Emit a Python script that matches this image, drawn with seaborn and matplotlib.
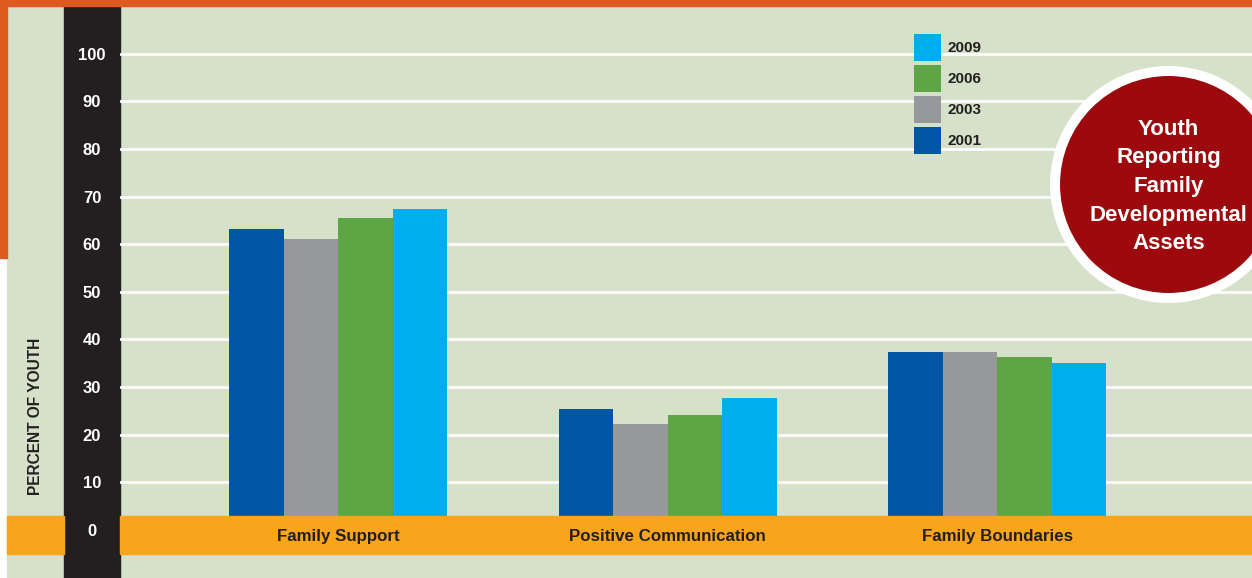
import matplotlib
matplotlib.use("Agg")
import matplotlib.pyplot as plt
import seaborn as sns
import pandas as pd
from matplotlib import font_manager
from matplotlib.patches import Rectangle, Circle

# ---------------- data ----------------
categories = ["Family Support", "Positive Communication", "Family Boundaries"]
years = ["2001", "2003", "2006", "2009"]
pct_2001 = [63.2, 25.3, 37.3]
pct_2003 = [61.1, 22.2, 37.3]
pct_2006 = [65.5, 24.1, 36.3]
pct_2009 = [67.4, 27.7, 35.0]
y_ticks = [0, 10, 20, 30, 40, 50, 60, 70, 80, 90, 100]
badge_text = "Youth\nReporting\nFamily\nDevelopmental\nAssets"

df = pd.DataFrame({
    "Asset": categories * 4,
    "Year": [y for y in years for _ in categories],
    "Percent": pct_2001 + pct_2003 + pct_2006 + pct_2009,
})

colores = {"2001": "#0055A5", "2003": "#97989B", "2006": "#5DA545", "2009": "#00AEEF"}
verde = "#D5E1C8"
naranja = "#F8A51B"
naranja_borde = "#DD5B1F"
negro = "#231F20"
rojo = "#9D0A0E"

sns.set_style("white")
plt.rcParams["font.family"] = ["Liberation Sans", "DejaVu Sans"]

nombres = {f.name for f in font_manager.fontManager.ttflist}
if "Liberation Sans Narrow" in nombres:
    fam_narrow = ["Liberation Sans Narrow", "Liberation Sans"]
    size_ticks, size_ylabel = 13.5, 13.5
else:
    fam_narrow = ["Liberation Sans"]
    size_ticks, size_ylabel = 12, 11.2

W, H = 1252, 578
fig = plt.figure(figsize=(W / 100, H / 100), dpi=100)
fig.patch.set_facecolor("white")


def fx(px):
    return px / W


def fy(py):
    return 1 - py / H


# fondo y borde
fig.add_artist(Rectangle((fx(7), 0), 1 - fx(7), 1, transform=fig.transFigure,
                         color=verde, zorder=-5))
fig.add_artist(Rectangle((0, fy(6)), 1, 6 / H, transform=fig.transFigure,
                         color=naranja_borde, zorder=10))
fig.add_artist(Rectangle((0, fy(258)), fx(7), 258 / H, transform=fig.transFigure,
                         color=naranja_borde, zorder=10))

ax = fig.add_axes([fx(120), 0, 1 - fx(120), 1])
ax.set_facecolor("none")

sns.barplot(data=df, x="Asset", y="Percent", hue="Year", hue_order=years,
            order=categories, palette=colores, width=0.662, saturation=1,
            linewidth=0, ax=ax)

ax.set_xlim(-0.662, 2.773)
ax.set_ylim(-10.1, 111.3)
ax.set_yticks(y_ticks)
ax.set_axisbelow(True)
ax.grid(axis="y", color="white", linewidth=2)
ax.grid(axis="x", visible=False)
ax.xaxis.set_zorder(5)
for s in ax.spines.values():
    s.set_visible(False)

# franja negra detras de las etiquetas del eje y
ax.add_artist(Rectangle((fx(64), 0), fx(120) - fx(64), 1, transform=fig.transFigure,
                        color=negro, clip_on=False, zorder=0.6))
# banda naranja sobre la base de las barras
ax.add_artist(Rectangle((fx(7), fy(554)), fx(64) - fx(7), 38 / H, transform=fig.transFigure,
                        color=naranja, clip_on=False, zorder=3))
ax.add_artist(Rectangle((fx(120), fy(554)), 1 - fx(120), 38 / H, transform=fig.transFigure,
                        color=naranja, clip_on=False, zorder=3))

ax.tick_params(axis="y", length=0, pad=20.2, labelcolor="white")
ax.yaxis.set_zorder(0.7)
plt.setp(ax.get_yticklabels(), ha="center", fontweight="bold",
         family=fam_narrow, fontsize=size_ticks)
ax.tick_params(axis="x", length=0, pad=-29.7, labelcolor=negro)
plt.setp(ax.get_xticklabels(), va="center", fontweight="bold", fontsize=12.2)

ax.set_xlabel("")
ax.set_ylabel("PERCENT OF YOUTH", color=negro)
ax.yaxis.label.set_fontweight("bold")
ax.yaxis.label.set_family(fam_narrow)
ax.yaxis.label.set_fontsize(size_ylabel)
ax.yaxis.label.set_va("center")
ax.yaxis.set_label_coords((35.5 - 120) / 1132, (578 - 416.5) / 578)

# leyenda, el año mas reciente arriba
handles, labels = ax.get_legend_handles_labels()
ax.legend(handles[::-1], labels[::-1], loc="upper left",
          bbox_to_anchor=(fx(914), fy(34)), bbox_transform=fig.transFigure,
          frameon=False, borderpad=0, borderaxespad=0,
          handlelength=1.767, handleheight=2.342, handletextpad=0.4,
          labelspacing=0.26, labelcolor=negro,
          prop={"family": "Liberation Sans", "weight": "bold", "size": 11})

# circulo
fig.add_artist(Circle((1168.5 / 100, (H - 184.5) / 100), radius=1.135,
                      transform=fig.dpi_scale_trans, facecolor=rojo,
                      edgecolor="white", linewidth=7.2, zorder=8))
fig.text(fx(1168.5), fy(186.5), badge_text, ha="center", va="center",
         color="white", fontweight="bold", fontsize=16, linespacing=1.48,
         zorder=9)

fig.savefig("out.png", dpi=100)
